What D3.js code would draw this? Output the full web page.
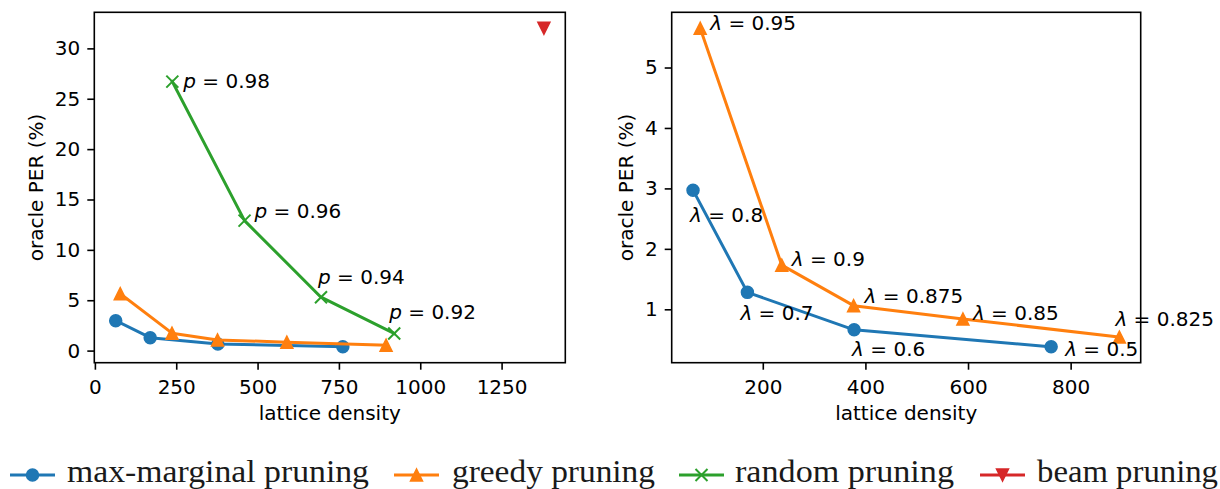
<!DOCTYPE html>
<html>
<head>
<meta charset="utf-8">
<script src="https://cdn.jsdelivr.net/npm/d3@7"></script>
<style>
  body { margin: 0; background: #fff; }
  svg { display: block; }
  .tick text { font-family: "DejaVu Sans", sans-serif; font-size: 20px; fill: #000; }
  .tick line { stroke: #000; stroke-width: 1.6px; }
  .lbl { font-family: "DejaVu Sans", sans-serif; font-size: 20px; fill: #000; }
  .legend text { font-family: "Liberation Serif", serif; font-size: 31px; fill: #1a1a1a; }
</style>
</head>
<body>
<svg id="chart" width="1220" height="489"></svg>
<script>
// values
const maxMarginalDensity = [64, 170, 378, 762];
const maxMarginalPER = [2.97, 1.28, 0.66, 0.38];
const maxMarginalLambda = ["0.8", "0.7", "0.6", "0.5"];

const greedyDensity = [78, 237, 377, 590, 895];
const greedyPER = [5.65, 1.73, 1.06, 0.84, 0.54];
const greedyLambda = ["0.95", "0.9", "0.875", "0.85", "0.825"];

const randomDensity = [238, 460, 695, 920];
const randomPER = [26.7, 12.9, 5.3, 1.7];
const randomP = ["0.98", "0.96", "0.94", "0.92"];

const beamDensity = [1380];
const beamPER = [32.0];

const leftXTicks = [0, 250, 500, 750, 1000, 1250];
const leftYTicks = [0, 5, 10, 15, 20, 25, 30];
const rightXTicks = [200, 400, 600, 800];
const rightYTicks = [1, 2, 3, 4, 5];

const legendLabels = ["max-marginal pruning", "greedy pruning", "random pruning", "beam pruning"];

const colors = { blue: "#1f77b4", orange: "#ff7f0e", green: "#2ca02c", red: "#d62728" };

const svg = d3.select("#chart");
svg.append("rect").attr("width", 1220).attr("height", 489).attr("fill", "#fff");

const zip = (xs, ys) => xs.map((x, i) => ({ x: x, y: ys[i] }));

// matplotlib style 5% margins
function padded(values) {
    const [lo, hi] = d3.extent(values);
    const m = (hi - lo) * 0.05;
    return [lo - m, hi + m];
}

// marker shapes
function marker(g, kind, x, y, color) {
    const s = 6;
    if (kind === "o") {
        g.append("circle").attr("cx", x).attr("cy", y).attr("r", s)
            .attr("fill", color).attr("stroke", color).attr("stroke-width", 1.5);
    } else if (kind === "^") {
        g.append("path").attr("d", `M${x},${y - s}L${x - s},${y + s}L${x + s},${y + s}Z`)
            .attr("fill", color).attr("stroke", color).attr("stroke-width", 1.5);
    } else if (kind === "v") {
        g.append("path").attr("d", `M${x},${y + s}L${x - s},${y - s}L${x + s},${y - s}Z`)
            .attr("fill", color).attr("stroke", color).attr("stroke-width", 1.5);
    } else if (kind === "x") {
        g.append("path").attr("d", `M${x - s},${y - s}L${x + s},${y + s}M${x - s},${y + s}L${x + s},${y - s}`)
            .attr("fill", "none").attr("stroke", color).attr("stroke-width", 2);
    }
}

function drawAxes(box, xDomain, yDomain, xTicks, yTicks) {
    const x = d3.scaleLinear().domain(xDomain).range([box.left, box.right]);
    const y = d3.scaleLinear().domain(yDomain).range([box.bottom, box.top]);
    const g = svg.append("g");

    g.append("g")
        .attr("transform", `translate(0,${box.bottom})`)
        .call(d3.axisBottom(x).tickValues(xTicks).tickFormat(d3.format("d")).tickSize(7).tickPadding(10).tickSizeOuter(0))
        .call(a => a.select(".domain").remove());

    g.append("g")
        .attr("transform", `translate(${box.left},0)`)
        .call(d3.axisLeft(y).tickValues(yTicks).tickFormat(d3.format("d")).tickSize(7).tickPadding(7).tickSizeOuter(0))
        .call(a => a.select(".domain").remove());

    g.selectAll(".tick text").attr("font-family", null).attr("font-size", null);

    // x label
    g.append("text").attr("class", "lbl")
        .attr("x", (box.left + box.right) / 2).attr("y", 420)
        .attr("text-anchor", "middle").text("lattice density");

    // y label
    g.append("text").attr("class", "lbl")
        .attr("transform", `translate(${box.ylabelX},${(box.top + box.bottom) / 2}) rotate(-90)`)
        .attr("text-anchor", "middle").text("oracle PER (%)");

    return { x, y, g };
}

function drawSeries(ax, pts, color, kind) {
    const line = d3.line().x(d => ax.x(d.x)).y(d => ax.y(d.y));
    ax.g.append("path").datum(pts).attr("d", line)
        .attr("fill", "none").attr("stroke", color).attr("stroke-width", 3)
        .attr("stroke-linejoin", "round").attr("stroke-linecap", "square");
    pts.forEach(d => marker(ax.g, kind, ax.x(d.x), ax.y(d.y), color));
}

function annotate(ax, pts, sym, labels, offsets) {
    pts.forEach((d, i) => {
        const t = ax.g.append("text").attr("class", "lbl")
            .attr("x", ax.x(d.x) + offsets[i][0])
            .attr("y", ax.y(d.y) + offsets[i][1]);
        t.append("tspan").attr("font-style", "italic").text(sym);
        t.append("tspan").text(" = " + labels[i]);
    });
}

// ---------- left panel ----------
const leftBox = { left: 94.3, right: 565.3, top: 12.3, bottom: 362.7, ylabelX: 43 };
const leftX = padded([].concat(maxMarginalDensity, greedyDensity, randomDensity, beamDensity));
const leftY = padded([].concat(maxMarginalPER, greedyPER, randomPER, beamPER));
const left = drawAxes(leftBox, leftX, leftY, leftXTicks, leftYTicks);

drawSeries(left, zip(maxMarginalDensity, maxMarginalPER), colors.blue, "o");
drawSeries(left, zip(greedyDensity, greedyPER), colors.orange, "^");
drawSeries(left, zip(randomDensity, randomPER), colors.green, "x");
zip(beamDensity, beamPER).forEach(d => marker(left.g, "v", left.x(d.x), left.y(d.y), colors.red));
annotate(left, zip(randomDensity, randomPER), "p", randomP,
    [[11, 6], [10, -3], [-3, -13], [-5, -14]]);

left.g.append("rect")
    .attr("x", leftBox.left).attr("y", leftBox.top)
    .attr("width", leftBox.right - leftBox.left).attr("height", leftBox.bottom - leftBox.top)
    .attr("fill", "none").attr("stroke", "#000").attr("stroke-width", 1.6);

// ---------- right panel ----------
const rightBox = { left: 671.7, right: 1140.7, top: 12.3, bottom: 362.7, ylabelX: 633 };
const rightX = padded([].concat(maxMarginalDensity, greedyDensity));
const rightY = padded([].concat(maxMarginalPER, greedyPER));
const right = drawAxes(rightBox, rightX, rightY, rightXTicks, rightYTicks);

drawSeries(right, zip(maxMarginalDensity, maxMarginalPER), colors.blue, "o");
drawSeries(right, zip(greedyDensity, greedyPER), colors.orange, "^");
annotate(right, zip(maxMarginalDensity, maxMarginalPER), "λ", maxMarginalLambda,
    [[-3, 32], [-7, 28], [-2, 26], [14, 9]]);
annotate(right, zip(greedyDensity, greedyPER), "λ", greedyLambda,
    [[10, 2], [10, 1], [11, -3], [10, 1], [-4, -11]]);

right.g.append("rect")
    .attr("x", rightBox.left).attr("y", rightBox.top)
    .attr("width", rightBox.right - rightBox.left).attr("height", rightBox.bottom - rightBox.top)
    .attr("fill", "none").attr("stroke", "#000").attr("stroke-width", 1.6);

// ---------- legend ----------
const legendItems = [
    { color: colors.blue, kind: "o", x0: 10, tx: 67, tw: 302 },
    { color: colors.orange, kind: "^", x0: 394, tx: 452, tw: 203 },
    { color: colors.green, kind: "x", x0: 679, tx: 735, tw: 219 },
    { color: colors.red, kind: "v", x0: 980, tx: 1037, tw: 181 }
];
const legend = svg.append("g").attr("class", "legend");
legendItems.forEach((it, i) => {
    const cy = 475;
    legend.append("line").attr("x1", it.x0).attr("x2", it.x0 + 45)
        .attr("y1", cy).attr("y2", cy).attr("stroke", it.color).attr("stroke-width", 3);
    marker(legend, it.kind, it.x0 + 22.5, cy, it.color);
    legend.append("text").attr("x", it.tx).attr("y", 482)
        .attr("textLength", it.tw).attr("lengthAdjust", "spacingAndGlyphs")
        .text(legendLabels[i]);
});
</script>
</body>
</html>
